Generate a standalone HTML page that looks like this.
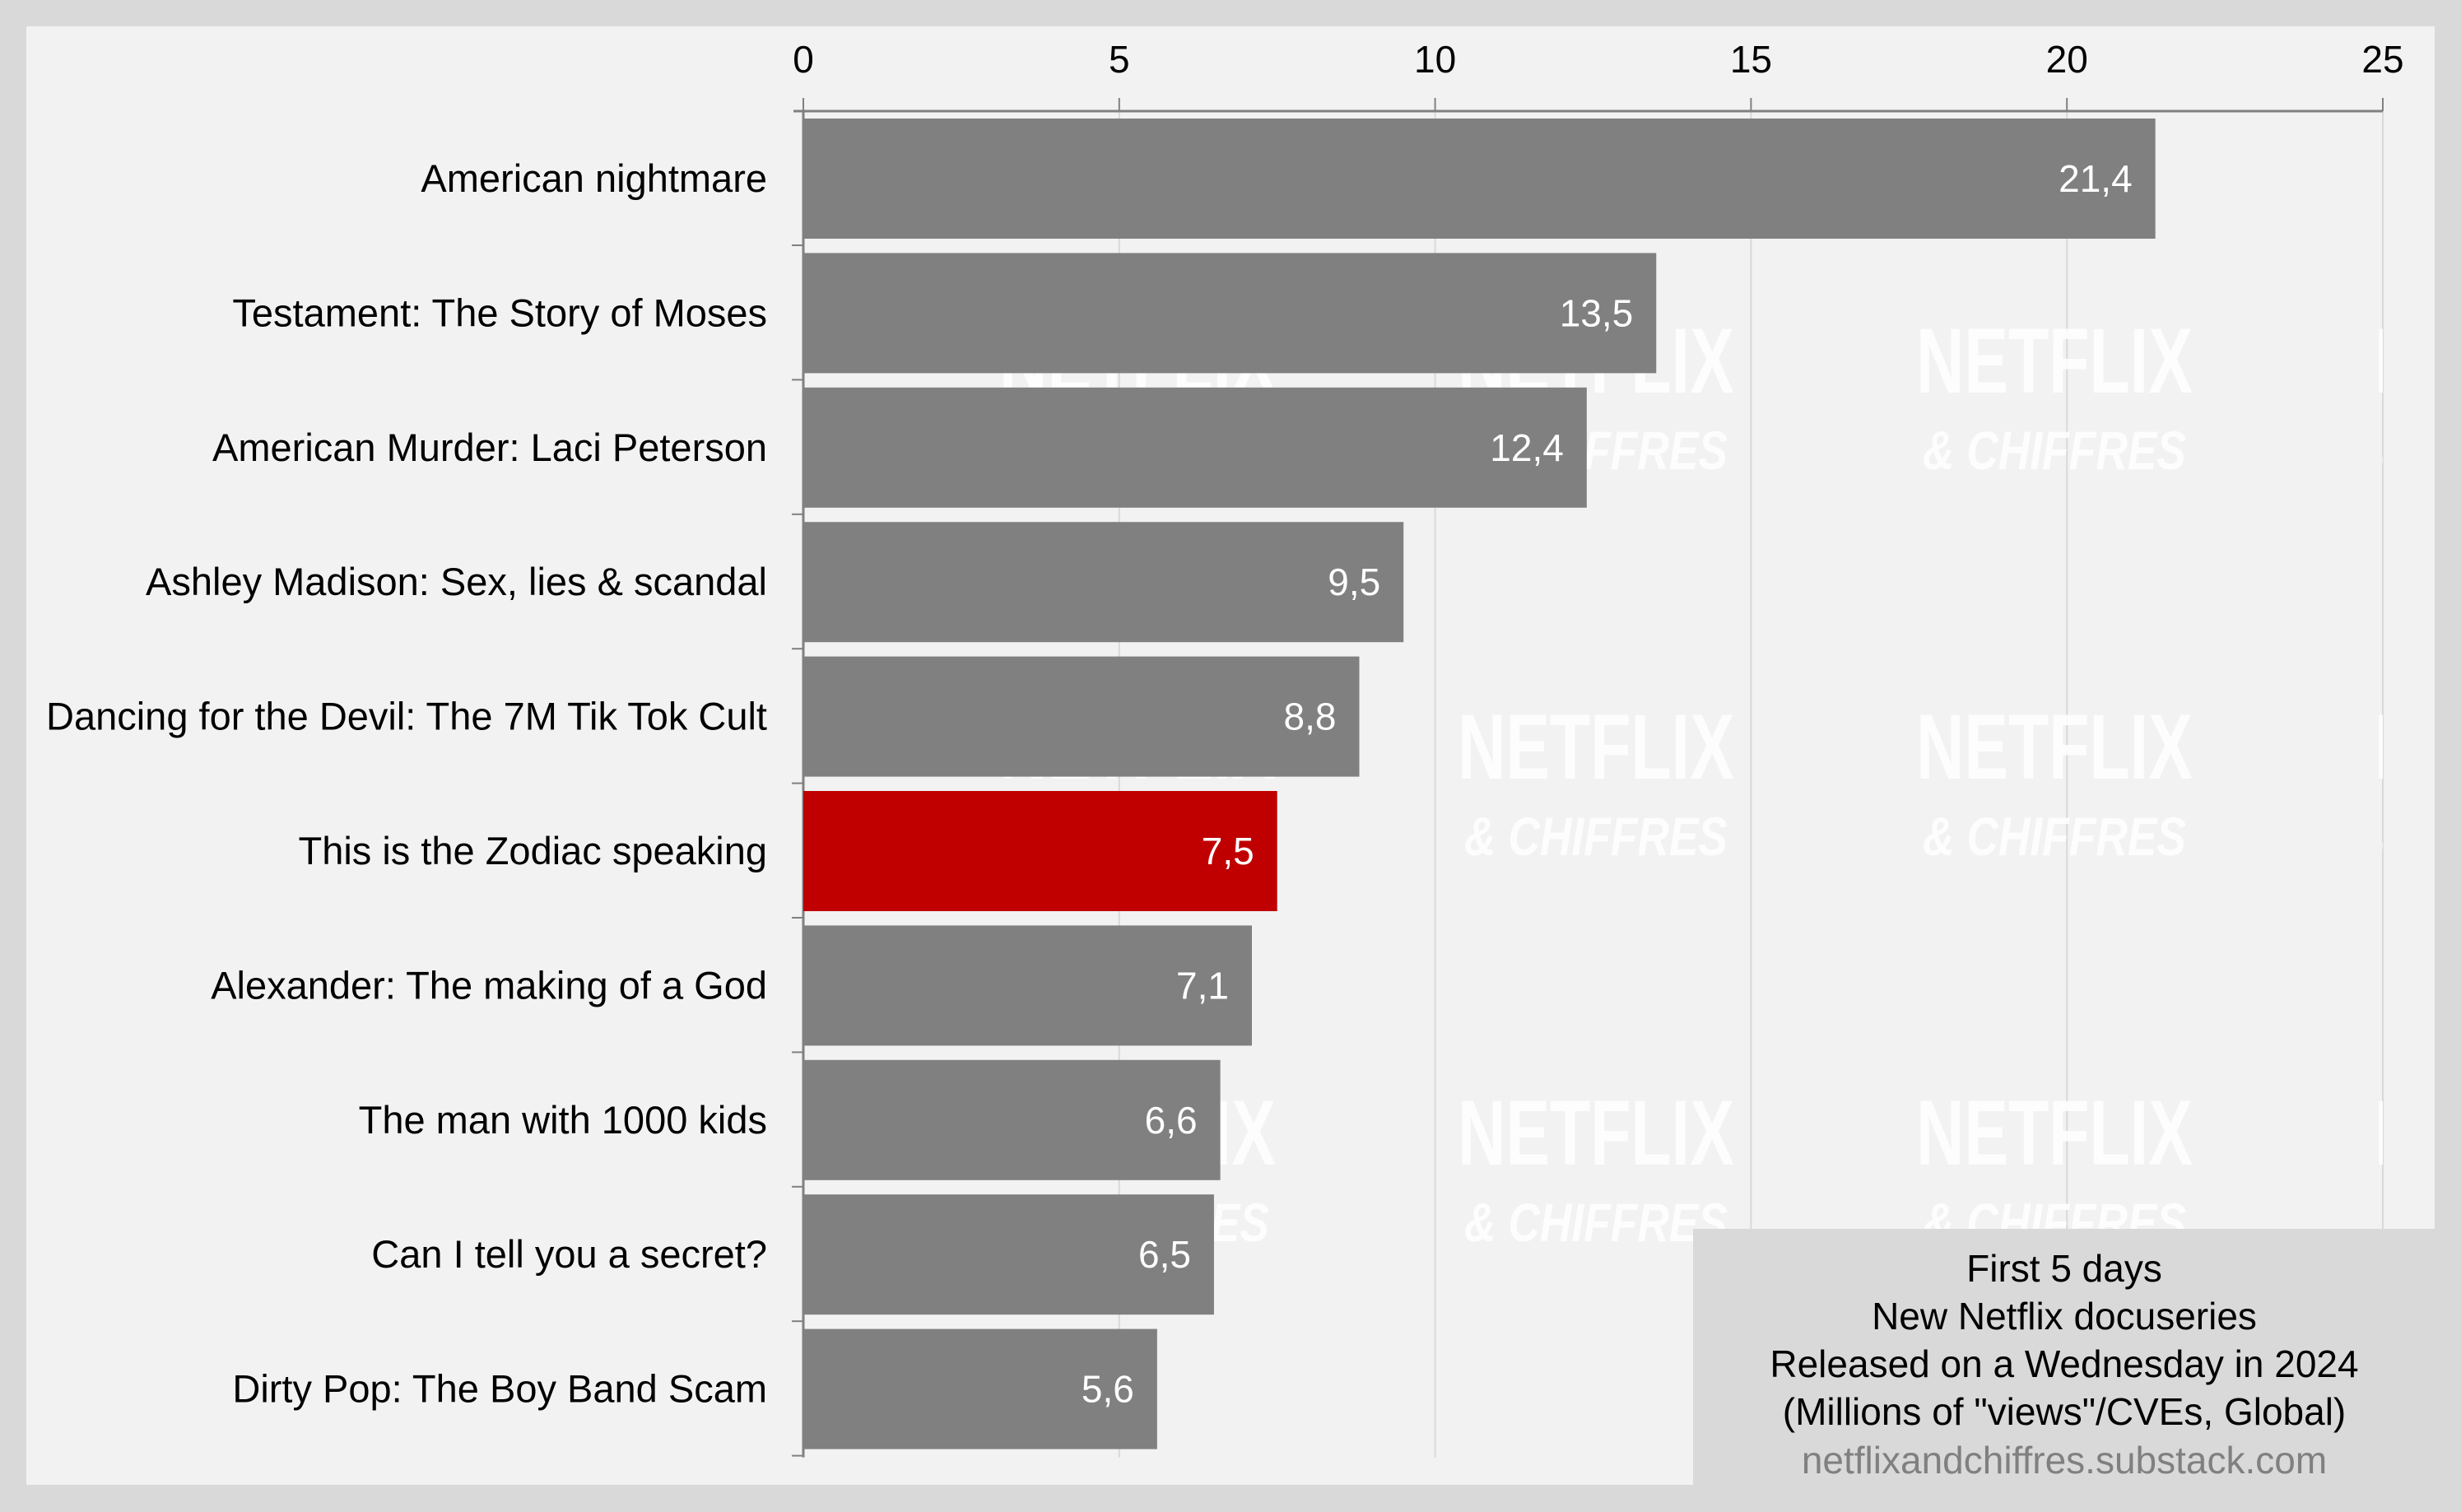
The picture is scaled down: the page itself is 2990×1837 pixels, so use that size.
<!DOCTYPE html>
<html><head><meta charset="utf-8"><style>
body{margin:0;background:#d9d9d9;}
svg{display:block;font-family:"Liberation Sans",sans-serif;}
</style></head><body>
<svg id="chart" width="2990" height="1837" viewBox="0 0 2990 1837">
<defs><clipPath id="plotclip"><rect x="976" y="136" width="1919" height="1700"/></clipPath></defs>
<rect x="0" y="0" width="2990" height="1837" fill="#d9d9d9"/>
<rect x="32" y="32" width="2926" height="1772" fill="#f2f2f2"/>
<g id="grid"></g>
<g id="wm" clip-path="url(#plotclip)"></g>
<g id="bars"></g>
<g id="vals"></g>
<g id="axis"></g>
<g id="cats"></g>
<g>
<rect x="2057" y="1493" width="901" height="311" fill="#d9d9d9"/>
<text x="2508" y="1557" text-anchor="middle" font-size="46" fill="#000">First 5 days</text>
<text x="2508" y="1615" text-anchor="middle" font-size="46" fill="#000">New Netflix docuseries</text>
<text x="2508" y="1673" text-anchor="middle" font-size="46" fill="#000">Released on a Wednesday in 2024</text>
<text x="2508" y="1731" text-anchor="middle" font-size="46" fill="#000">(Millions of "views"/CVEs, Global)</text>
<text x="2508" y="1790" text-anchor="middle" font-size="46" fill="#808080">netflixandchiffres.substack.com</text>
</g>
</svg>
<script>
const categories = ["American nightmare","Testament: The Story of Moses","American Murder: Laci Peterson","Ashley Madison: Sex, lies & scandal","Dancing for the Devil: The 7M Tik Tok Cult","This is the Zodiac speaking","Alexander: The making of a God","The man with 1000 kids","Can I tell you a secret?","Dirty Pop: The Boy Band Scam"];
const values = [21.4,13.5,12.4,9.5,8.8,7.5,7.1,6.6,6.5,5.6];
const highlighted = [false,false,false,false,false,true,false,false,false,false];
const ticks = [0,5,10,15,20,25];

const NS="http://www.w3.org/2000/svg";
const x0=976, x1=2895, xmax=25;
const x=v=>x0+(x1-x0)*v/xmax;
const yTop=144, step=163.4, bh=146;
const y=i=>yTop+i*step;
function mk(tag,attrs,parent){const e=document.createElementNS(NS,tag);for(const k in attrs)e.setAttribute(k,attrs[k]);parent.appendChild(e);return e;}
const grid=document.getElementById('grid'),wm=document.getElementById('wm'),bars=document.getElementById('bars'),vals=document.getElementById('vals'),axis=document.getElementById('axis'),cats=document.getElementById('cats');
const bottom=y(categories.length-1)+bh+10;
ticks.forEach(t=>{
  const g=mk('line',{x1:x(t),x2:x(t),y1:135,y2:bottom,stroke:t===0?'#808080':'#d9d9d9','stroke-width':t===0?3:2},grid);
  
  
  const tk=mk('line',{x1:x(t),x2:x(t),y1:119,y2:135,stroke:'#808080','stroke-width':2},axis);
  
  
  const lb=mk('text',{x:x(t),y:88,'text-anchor':'middle','font-size':46,fill:'#000'},axis);
  lb.textContent=t;
  
  
});
const al=mk('line',{x1:x0-12,x2:x1,y1:135,y2:135,stroke:'#808080','stroke-width':3},axis);


categories.forEach((c,i)=>{
  const r=mk('rect',{x:x0,y:y(i),width:x(values[i])-x0,height:bh,fill:highlighted[i]?'#c00000':'#808080'},bars);
  
  
  const v=mk('text',{x:x(values[i])-28,y:y(i)+bh/2+16,'text-anchor':'end','font-size':46,fill:'#fff'},vals);
  v.textContent=String(values[i]).replace('.',',');
  
  
  const l=mk('text',{x:932,y:y(i)+bh/2+16,'text-anchor':'end','font-size':47,fill:'#000'},cats);
  l.textContent=c;
  
  
  const tk=mk('line',{x1:x0-14,x2:x0,y1:y(i)+bh+8,y2:y(i)+bh+8,stroke:'#808080','stroke-width':2},axis);
  
  
});
// watermarks
[1382,1939,2496,3053].forEach(cx=>{[[477,570],[946,1039],[1415,1508]].forEach(r=>{
  const a=mk('text',{x:cx-168,y:r[0],'font-size':112,'font-weight':'bold',fill:'#ffffff','fill-opacity':0.85,textLength:336,lengthAdjust:'spacingAndGlyphs'},wm);
  a.textContent='NETFLIX';
  
  
  const b=mk('text',{x:cx-160,y:r[1],'font-size':66,'font-weight':'bold','font-style':'italic',fill:'#ffffff','fill-opacity':0.85,textLength:320,lengthAdjust:'spacingAndGlyphs'},wm);
  b.textContent='& CHIFFRES';
  
  
});});
</script>
</body></html>
